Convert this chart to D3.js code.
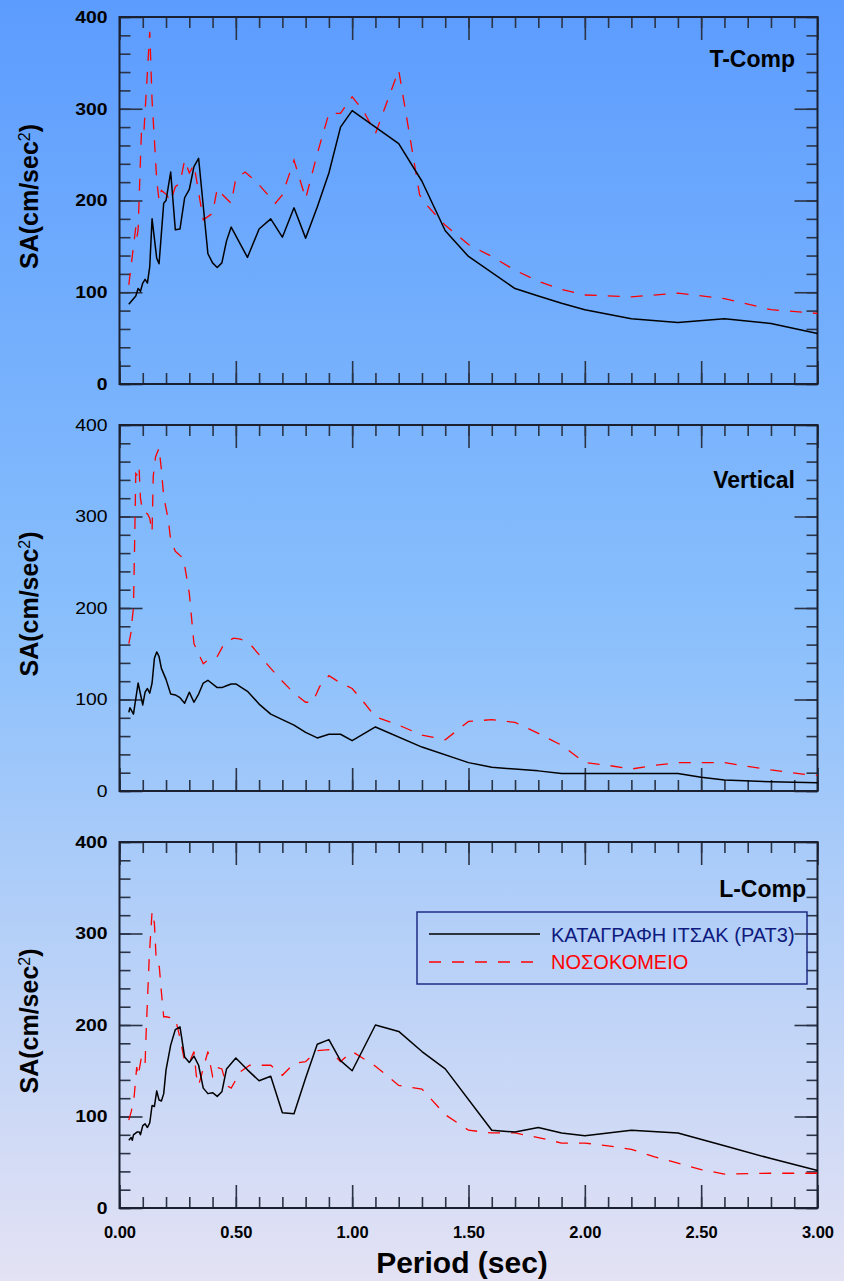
<!DOCTYPE html>
<html>
<head>
<meta charset="utf-8">
<script src="https://cdn.jsdelivr.net/npm/d3@7"></script>
<style>
  html, body { margin: 0; padding: 0; }
  svg { display: block; }
  text { font-family: "Liberation Sans", Arial, sans-serif; }
</style>
</head>
<body>
<svg id="chart" width="844" height="1281"></svg>
<script>
// ---- Spectral acceleration data (period in sec, SA in cm/sec^2) ----
const seriesNames = ["ΚΑΤΑΓΡΑΦΗ ΙΤΣΑΚ (PAT3)", "ΝΟΣΟΚΟΜΕΙΟ"];
const panelTitles = ["T-Comp", "Vertical", "L-Comp"];
const xTicks = [0, 0.5, 1.0, 1.5, 2.0, 2.5, 3.0];
const yTicks = [0, 100, 200, 300, 400];

// T-Comp, recorded (PAT3)
const tRecT = [0.04,0.05,0.07,0.08,0.09,0.10,0.11,0.12,0.13,0.14,0.16,0.17,0.19,0.20,0.22,0.24,0.26,0.28,0.30,0.32,0.34,0.38,0.40,0.42,0.44,0.46,0.48,0.55,0.60,0.65,0.70,0.75,0.80,0.85,0.90,0.95,1.00,1.20,1.30,1.40,1.50,1.70,1.80,1.90,2.00,2.20,2.40,2.60,2.80,3.00];
const tRecSA = [87,90,96,104,101,110,114,110,128,180,137,131,197,200,231,168,169,203,212,237,246,142,132,127,132,156,171,138,169,180,160,192,159,193,230,280,298,262,221,167,139,104,96,88,81,71,67,71,66,55];
// T-Comp, hospital
const tHosT = [0.04,0.06,0.07,0.075,0.08,0.09,0.095,0.105,0.13,0.14,0.15,0.16,0.17,0.18,0.20,0.22,0.24,0.26,0.28,0.30,0.32,0.36,0.40,0.42,0.44,0.48,0.50,0.54,0.59,0.67,0.70,0.75,0.80,0.85,0.90,0.95,1.00,1.05,1.10,1.20,1.29,1.32,1.40,1.50,1.60,1.70,1.80,1.90,2.00,2.20,2.40,2.60,2.80,2.95,3.00];
const tHosSA = [108,150,171,160,168,244,279,275,384,309,266,222,200,211,207,199,215,219,244,230,239,179,186,213,207,197,224,231,220,197,206,244,202,251,295,295,313,297,273,342,206,195,173,152,139,124,112,103,97,95,99,93,81,78,77];

// Vertical, recorded (PAT3)
const vRecT = [0.04,0.045,0.06,0.08,0.10,0.11,0.12,0.13,0.14,0.15,0.16,0.17,0.18,0.20,0.22,0.24,0.26,0.28,0.30,0.32,0.34,0.36,0.38,0.42,0.44,0.46,0.48,0.50,0.55,0.60,0.65,0.70,0.75,0.80,0.85,0.90,0.95,1.00,1.10,1.30,1.50,1.60,1.80,1.90,2.00,2.40,2.50,2.60,2.80,3.00];
const vRecSA = [86,91,84,118,94,108,112,107,118,145,152,147,134,122,106,105,102,96,108,97,106,118,121,113,113,115,117,117,109,95,84,78,72,64,58,62,62,55,70,48,31,26,22,19,19,19,15,12,10,9];
// Vertical, hospital
const vHosT = [0.04,0.05,0.055,0.06,0.065,0.07,0.077,0.084,0.09,0.10,0.12,0.13,0.14,0.145,0.155,0.17,0.18,0.19,0.21,0.22,0.24,0.275,0.30,0.32,0.36,0.38,0.42,0.45,0.49,0.52,0.56,0.60,0.65,0.70,0.75,0.80,0.83,0.86,0.90,0.95,1.00,1.05,1.10,1.20,1.30,1.40,1.50,1.60,1.70,1.80,1.90,2.00,2.10,2.20,2.30,2.40,2.60,2.70,2.80,2.95,3.00];
const vHosSA = [161,174,189,200,270,347,345,354,320,305,303,298,283,344,365,375,351,322,296,274,262,254,216,161,139,143,147,161,167,166,161,149,134,120,107,97,97,114,126,118,112,97,81,72,61,56,76,78,75,63,50,31,28,24,28,31,31,27,23,18,17];

// L-Comp, recorded (PAT3)
const lRecT = [0.04,0.05,0.055,0.06,0.075,0.085,0.09,0.10,0.11,0.12,0.13,0.14,0.15,0.16,0.17,0.18,0.19,0.20,0.22,0.24,0.26,0.28,0.30,0.32,0.34,0.36,0.38,0.40,0.42,0.44,0.46,0.48,0.50,0.55,0.60,0.65,0.70,0.75,0.80,0.85,0.90,0.95,1.00,1.10,1.20,1.30,1.40,1.60,1.70,1.80,1.90,2.00,2.20,2.40,2.60,2.80,3.00];
const lRecSA = [74,77,74,80,83,83,80,90,92,88,93,112,111,128,118,117,125,151,178,195,198,165,159,166,156,131,125,126,122,127,152,158,164,151,139,144,104,103,142,179,184,161,150,200,193,171,152,85,83,88,82,79,85,82,68,54,41];
// L-Comp, hospital
const lHosT = [0.04,0.05,0.062,0.074,0.08,0.095,0.11,0.115,0.128,0.14,0.15,0.157,0.164,0.171,0.18,0.19,0.20,0.22,0.24,0.26,0.28,0.30,0.32,0.33,0.34,0.38,0.40,0.415,0.44,0.46,0.48,0.52,0.56,0.65,0.70,0.75,0.80,0.85,0.90,0.95,1.00,1.10,1.20,1.30,1.40,1.50,1.60,1.70,1.80,1.90,2.00,2.10,2.20,2.30,2.40,2.50,2.60,2.80,3.00];
const lHosSA = [96,105,119,154,144,166,158,195,275,324,311,275,265,264,236,209,209,208,207,186,160,159,171,145,134,171,144,154,152,134,131,149,156,156,145,158,160,172,173,160,171,155,134,130,102,85,82,82,77,71,71,68,64,56,49,42,37,38,38];

const panelsData = [
  { title: panelTitles[0], rec: [tRecT, tRecSA], hos: [tHosT, tHosSA], boldLabels: true },
  { title: panelTitles[1], rec: [vRecT, vRecSA], hos: [vHosT, vHosSA], boldLabels: false },
  { title: panelTitles[2], rec: [lRecT, lRecSA], hos: [lHosT, lHosSA], boldLabels: true }
];

// ---- Layout ----
const W = 844, H = 1281;
const plotLeft = 119.5, plotRight = 817.5;
const panelBox = [[17, 384], [425, 791], [842, 1208]];
const REC_COLOR = "#000000", HOS_COLOR = "#ff0000";
const TICK_COLOR = "#2b3446";

const svg = d3.select("#chart");

// background gradient
const defs = svg.append("defs");
const grad = defs.append("linearGradient").attr("id", "bg").attr("x1", 0).attr("y1", 0).attr("x2", 0).attr("y2", 1);
grad.append("stop").attr("offset", "0%").attr("stop-color", "#5c9cfe");
grad.append("stop").attr("offset", "47%").attr("stop-color", "#87befc");
grad.append("stop").attr("offset", "100%").attr("stop-color", "#e4e2f4");
svg.append("rect").attr("width", W).attr("height", H).attr("fill", "url(#bg)");

const x = d3.scaleLinear().domain([0, 3]).range([plotLeft, plotRight]);
const xMinor = d3.range(0, 3.0001, 0.1).map(v => +v.toFixed(2));

function styleTicks(g) {
  g.select(".domain").remove();
  g.selectAll(".tick line").attr("stroke", TICK_COLOR).attr("stroke-width", 1.6);
}

panelsData.forEach((p, i) => {
  const [top, bottom] = panelBox[i];
  const y = d3.scaleLinear().domain([0, 400]).range([bottom, top]);
  const yMinor = d3.range(0, 401, 20);
  const g = svg.append("g");
  const isBottom = i === panelsData.length - 1;

  // minor ticks on all sides, pointing inward
  g.append("g").attr("transform", `translate(0,${bottom})`)
    .call(d3.axisBottom(x).tickValues(xMinor).tickSize(-11).tickFormat(""))
    .call(styleTicks);
  g.append("g").attr("transform", `translate(0,${top})`)
    .call(d3.axisTop(x).tickValues(xMinor).tickSize(-11).tickFormat(""))
    .call(styleTicks);
  g.append("g").attr("transform", `translate(${plotLeft},0)`)
    .call(d3.axisLeft(y).tickValues(yMinor).tickSize(-11).tickFormat(""))
    .call(styleTicks);
  g.append("g").attr("transform", `translate(${plotRight},0)`)
    .call(d3.axisRight(y).tickValues(yMinor).tickSize(-11).tickFormat(""))
    .call(styleTicks);

  // major ticks
  const xb = g.append("g").attr("transform", `translate(0,${bottom})`)
    .call(d3.axisBottom(x).tickValues(xTicks).tickSize(-23).tickPadding(18)
      .tickFormat(isBottom ? d3.format(".2f") : ""))
    .call(styleTicks);
  xb.selectAll("text").attr("fill", "#000").attr("font-size", 16.5).attr("font-weight", "bold")
    .attr("font-family", "Liberation Sans, Arial, sans-serif");
  g.append("g").attr("transform", `translate(0,${top})`)
    .call(d3.axisTop(x).tickValues(xTicks).tickSize(-23).tickFormat(""))
    .call(styleTicks);
  const yl = g.append("g").attr("transform", `translate(${plotLeft},0)`)
    .call(d3.axisLeft(y).tickValues(yTicks).tickSize(-23).tickPadding(12).tickFormat(d3.format("d")))
    .call(styleTicks);
  yl.selectAll("text").attr("fill", "#000").attr("font-size", 17)
    .attr("font-weight", p.boldLabels ? "bold" : "normal")
    .attr("font-family", "Liberation Sans, Arial, sans-serif")
    .each(function () {
      // slightly wide numerals
      const len = this.getComputedTextLength();
      d3.select(this).attr("textLength", len * 1.14).attr("lengthAdjust", "spacingAndGlyphs");
    });
  g.append("g").attr("transform", `translate(${plotRight},0)`)
    .call(d3.axisRight(y).tickValues(yTicks).tickSize(-23).tickFormat(""))
    .call(styleTicks);

  // frame
  g.append("rect").attr("x", plotLeft).attr("y", top)
    .attr("width", plotRight - plotLeft).attr("height", bottom - top)
    .attr("fill", "none").attr("stroke", "#1b2030").attr("stroke-width", 2);

  // curves
  const line = d3.line().x(d => x(d[0])).y(d => y(d[1]));
  const recPts = d3.zip(p.rec[0], p.rec[1]);
  const hosPts = d3.zip(p.hos[0], p.hos[1]);
  g.append("path").datum(hosPts).attr("d", line)
    .attr("fill", "none").attr("stroke", HOS_COLOR).attr("stroke-width", 1.3)
    .attr("stroke-dasharray", "12,11");
  g.append("path").datum(recPts).attr("d", line)
    .attr("fill", "none").attr("stroke", REC_COLOR).attr("stroke-width", 1.5)
    .attr("stroke-linejoin", "round");

  // panel title
  const titleY = [67, 488, 897][i];
  const titleX = [795, 795, 806][i];
  g.append("text").attr("x", titleX).attr("y", titleY).attr("text-anchor", "end")
    .attr("font-size", 23).attr("font-weight", "bold").attr("fill", "#000").text(p.title);

  // y-axis title
  const cy = (top + bottom) / 2 - 4;
  const yt = g.append("text").attr("transform", `translate(38,${cy}) rotate(-90)`)
    .attr("text-anchor", "middle").attr("font-size", 25).attr("font-weight", "bold").attr("fill", "#000");
  yt.append("tspan").text("SA(cm/sec");
  yt.append("tspan").attr("font-size", 16).attr("font-weight", "normal").attr("dy", -8).text("2");
  yt.append("tspan").attr("dy", 8).text(")");
});

// legend (inside L-Comp panel)
const lg = svg.append("g");
lg.append("rect").attr("x", 417).attr("y", 912).attr("width", 390).attr("height", 72)
  .attr("fill", "none").attr("stroke", "#1f2d86").attr("stroke-width", 1.5);
lg.append("line").attr("x1", 429).attr("x2", 540).attr("y1", 934).attr("y2", 934)
  .attr("stroke", REC_COLOR).attr("stroke-width", 1.5);
lg.append("line").attr("x1", 429).attr("x2", 535).attr("y1", 962).attr("y2", 962)
  .attr("stroke", HOS_COLOR).attr("stroke-width", 1.3).attr("stroke-dasharray", "12,11");
lg.append("text").attr("x", 551).attr("y", 942).attr("font-size", 20).attr("fill", "#0e1a7e").text(seriesNames[0]);
lg.append("text").attr("x", 551).attr("y", 969).attr("font-size", 20).attr("fill", "#ff0000").text(seriesNames[1]);

// x-axis title
svg.append("text").attr("x", 462).attr("y", 1273).attr("text-anchor", "middle")
  .attr("font-size", 30).attr("font-weight", "bold").attr("fill", "#000").text("Period (sec)");
</script>
</body>
</html>
